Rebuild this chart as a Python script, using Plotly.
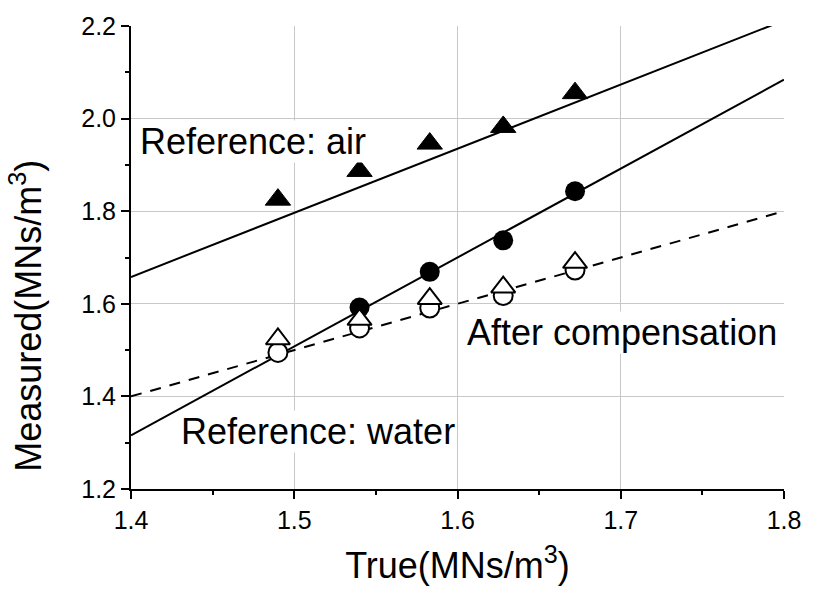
import plotly.graph_objects as go

# ---- data ----
true_x = [1.490, 1.540, 1.583, 1.628, 1.672]
air_measured = [1.825, 1.887, 1.946, 1.982, 2.055]
water_x = [1.540, 1.583, 1.628, 1.672]
water_measured = [1.592, 1.669, 1.737, 1.843]
comp_circle = [1.495, 1.548, 1.591, 1.618, 1.673]
comp_triangle = [1.524, 1.566, 1.611, 1.636, 1.689]

fit_x = [1.4, 1.8]
air_fit = [1.658, 2.212]
water_fit = [1.316, 2.084]
ideal_fit = [1.4, 1.8]

x_ticks = [1.4, 1.5, 1.6, 1.7, 1.8]
y_ticks = [1.2, 1.4, 1.6, 1.8, 2.0, 2.2]

FONT = "Arial, Liberation Sans, sans-serif"
GRID = "#c8c8c8"

fig = go.Figure()

# fitted lines
fig.add_trace(go.Scatter(x=fit_x, y=air_fit, mode="lines",
                         line=dict(color="black", width=2), showlegend=False))
fig.add_trace(go.Scatter(x=fit_x, y=water_fit, mode="lines",
                         line=dict(color="black", width=2), showlegend=False))
fig.add_trace(go.Scatter(x=fit_x, y=ideal_fit, mode="lines",
                         line=dict(color="black", width=2, dash="11px,9px"),
                         showlegend=False))

# markers
fig.add_trace(go.Scatter(x=true_x, y=air_measured, mode="markers",
                         marker=dict(symbol="triangle-up", size=22, color="black",
                                     line=dict(color="black", width=1)),
                         showlegend=False, cliponaxis=False))
fig.add_trace(go.Scatter(x=water_x, y=water_measured, mode="markers",
                         marker=dict(symbol="circle", size=20, color="black"),
                         showlegend=False, cliponaxis=False))
fig.add_trace(go.Scatter(x=true_x, y=comp_circle, mode="markers",
                         marker=dict(symbol="circle", size=19, color="white",
                                     line=dict(color="black", width=2)),
                         showlegend=False, cliponaxis=False))
fig.add_trace(go.Scatter(x=true_x, y=comp_triangle, mode="markers",
                         marker=dict(symbol="triangle-up", size=21, color="white",
                                     line=dict(color="black", width=2)),
                         showlegend=False, cliponaxis=False))

# labels
ann_font = dict(family=FONT, size=36, color="black")
fig.add_annotation(x=1.4049, y=1.950, text="Reference: air", showarrow=False,
                   xanchor="left", yanchor="middle", font=ann_font,
                   bgcolor="white", borderpad=0)
fig.add_annotation(x=1.6052, y=1.538, text="After compensation", showarrow=False,
                   xanchor="left", yanchor="middle", font=ann_font,
                   bgcolor="white", borderpad=0)
fig.add_annotation(x=1.430, y=1.324, text="Reference: water", showarrow=False,
                   xanchor="left", yanchor="middle", font=ann_font,
                   bgcolor="white", borderpad=0)
# y-axis title as rotated text
fig.add_annotation(xref="paper", yref="paper", x=-0.122, y=0.375,
                   text="Measured(MNs/m<sup>3</sup>)", textangle=-90,
                   showarrow=False, xanchor="right", yanchor="middle",
                   font=dict(family=FONT, size=36, color="black"))

axis_common = dict(showline=True, linecolor="black", linewidth=2,
                   tickfont=dict(family=FONT, size=25, color="black"),
                   tickcolor="black", zeroline=False)

fig.update_layout(
    width=819, height=592,
    margin=dict(l=131, r=35, t=20, b=103),
    paper_bgcolor="white", plot_bgcolor="white",
    xaxis=dict(range=[1.4, 1.8], tickvals=x_ticks, ticktext=[f"{v:.1f}" for v in x_ticks],
               ticks="outside", ticklen=8, tickwidth=2,
               showgrid=True, gridcolor=GRID, gridwidth=1,
               minor=dict(dtick=0.05, tick0=1.4, ticks="outside", ticklen=4,
                          tickwidth=2, tickcolor="black", showgrid=False),
               title=dict(text="True(MNs/m<sup>3</sup>)",
                          font=dict(family=FONT, size=36, color="black"), standoff=20),
               **axis_common),
    yaxis=dict(range=[1.2, 2.2], tickvals=y_ticks, ticktext=[f"{v:.1f}" for v in y_ticks],
               ticks="outside", ticklen=8, tickwidth=2,
               showgrid=True, gridcolor=GRID, gridwidth=1,
               minor=dict(dtick=0.1, tick0=1.2, ticks="outside", ticklen=4,
                          tickwidth=2, tickcolor="black", showgrid=False),
               **axis_common),
    xaxis2=dict(range=[1.4, 1.8], overlaying="x", side="top", anchor="y",
                tickvals=x_ticks, showticklabels=False, ticks="inside",
                ticklen=9, tickwidth=2, showgrid=False,
                minor=dict(dtick=0.05, tick0=1.4, ticks="inside", ticklen=4,
                           tickwidth=2, tickcolor="black", showgrid=False),
                **axis_common),
    yaxis2=dict(range=[1.2, 2.2], overlaying="y", side="right", anchor="x",
                tickvals=y_ticks, showticklabels=False, ticks="inside",
                ticklen=9, tickwidth=2, showgrid=False,
                minor=dict(dtick=0.1, tick0=1.2, ticks="inside", ticklen=4,
                           tickwidth=2, tickcolor="black", showgrid=False),
                **axis_common),
)

fig.write_html("out.html")
